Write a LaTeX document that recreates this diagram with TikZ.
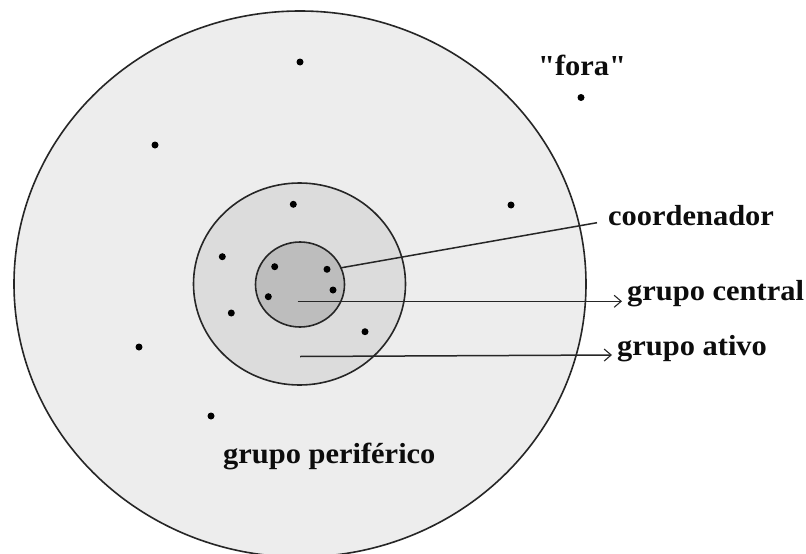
\documentclass[tikz,border=0pt]{standalone}
\usepackage{fontspec}
\setmainfont{Liberation Serif}[Ligatures=TeXOff]
\usetikzlibrary{arrows.meta}
\definecolor{bigfill}{HTML}{EDEDED}
\definecolor{midfill}{HTML}{DCDCDC}
\definecolor{smallfill}{HTML}{BDBDBD}
\definecolor{edgecol}{HTML}{262626}
\newcommand{\lbltext}[1]{\scalebox{1.05}[1]{#1}}
\begin{document}
\begin{tikzpicture}[x=1pt,y=-1pt,
  ring/.style={draw=edgecol,line width=1.6pt},
  dot/.style={circle,fill=black,inner sep=0pt,minimum size=7pt},
  lbl/.style={font=\fontsize{29}{32}\selectfont\bfseries,inner sep=0pt,anchor=base west,text=black!95},
  conn/.style={draw=edgecol,line width=1.5pt},
  tipped/.style={-{Straight Barb[length=7pt,width=12pt,line width=1.1pt]}}]
\useasboundingbox (0,0) rectangle (806,554);
\fill[white] (0,0) rectangle (806,554);
\begin{scope}
  \clip (0,0) rectangle (806,554);
  \filldraw[ring,fill=bigfill] (300,284) ellipse [x radius=286, y radius=273];
\end{scope}
\filldraw[ring,fill=midfill] (299.5,284) ellipse [x radius=106, y radius=101];
\filldraw[ring,fill=smallfill] (300,284.5) ellipse [x radius=44.5, y radius=42.5];
% dots
\node[dot] (d1) at (300,62) {};
\node[dot] (d2) at (155,145) {};
\node[dot] (fdot) at (581,97.5) {};
\node[dot] (d4) at (293.3,204.3) {};
\node[dot] (d5) at (511,205) {};
\node[dot] (d6) at (222.3,256.7) {};
\node[dot] (d7) at (274.7,266.7) {};
\node[dot] (coord) at (327,269.3) {};
\node[dot] (d9) at (333,290) {};
\node[dot] (d10) at (268.3,296.7) {};
\node[dot] (d11) at (231.3,313) {};
\node[dot] (d12) at (365,331.7) {};
\node[dot] (d13) at (139,347) {};
\node[dot] (d14) at (211,416) {};
% labels
\node[lbl] (fora) at (538,75) {\lbltext{"fora"}};
\node[lbl] (lcoord) at (608,225) {\lbltext{coordenador}};
\node[lbl] (lcentral) at (627,300.5) {\lbltext{grupo central}};
\node[lbl] (lativo) at (617,355) {\lbltext{grupo ativo}};
\node[lbl] (lperif) at (223,463) {\lbltext{grupo periférico}};
% connector points
\coordinate (cs) at (340,268);
\coordinate (ce) at (597,222.7);
\coordinate (gcs) at (297.7,301.3);
\coordinate (gce) at (622,301.3);
\coordinate (gas) at (300,356.5);
\coordinate (gae) at (612,355);
\draw[conn] (cs) -- (ce);
\draw[conn,tipped] (gcs) -- (gce);
\draw[conn,tipped] (gas) -- (gae);
\end{tikzpicture}
\end{document}
